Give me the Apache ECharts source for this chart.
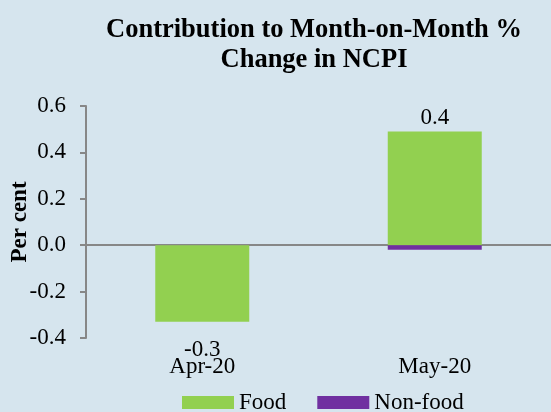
<!DOCTYPE html>
<html>
<head>
<meta charset="utf-8">
<script src="https://cdn.jsdelivr.net/npm/echarts@6/dist/echarts.min.js"></script>
<style>
html,body{margin:0;padding:0;background:#D6E5EE;}
#main{width:551px;height:412px;}
</style>
</head>
<body>
<div id="main"></div>
<script>
var categories = ['Apr-20', 'May-20'];
var foodValues = [-0.33, 0.49];
var nonFoodValues = [0.0, -0.02];
var totalLabels = ['-0.3', '0.4'];
var yTicks = [-0.4, -0.2, 0.0, 0.2, 0.4, 0.6];

var FONT = '"Liberation Serif", "Times New Roman", serif';
var chart = echarts.init(document.getElementById('main'));
var labelPos = ['bottom', 'top'];
var labelDist = [17, 2];

chart.setOption({
  backgroundColor: '#D6E5EE',
  animation: false,
  title: {
    text: 'Contribution to Month-on-Month %\nChange in NCPI',
    left: 309,
    textAlign: 'center',
    top: 10,
    textStyle: {fontFamily: FONT, fontWeight: 'bold', fontSize: 26.5, lineHeight: 30, color: '#000'}
  },
  legend: {
    left: 182,
    top: 391,
    padding: 0,
    itemWidth: 52,
    itemHeight: 13,
    itemGap: 31,
    icon: 'rect',
    textStyle: {fontFamily: FONT, fontSize: 23, color: '#000', padding: [0, 0, 0, 0]},
    data: ['Food', 'Non-food']
  },
  grid: {left: 86, right: 0, top: 106, bottom: 74, containLabel: false, outerBoundsMode: 'none'},
  xAxis: [{
    type: 'category',
    data: categories,
    axisLine: {onZero: true, lineStyle: {color: '#878787', width: 2}},
    axisTick: {show: false},
    axisLabel: {show: false}
  }, {
    type: 'category',
    data: categories,
    position: 'bottom',
    axisLine: {show: false, onZero: false},
    axisTick: {show: false},
    axisLabel: {fontFamily: FONT, fontSize: 23, color: '#000', margin: 17}
  }],
  yAxis: {
    type: 'value',
    min: -0.4,
    max: 0.6,
    interval: 0.2,
    name: 'Per cent',
    nameLocation: 'middle',
    nameGap: 54,
    nameMoveOverlap: false,
    nameTextStyle: {fontFamily: FONT, fontWeight: 'bold', fontSize: 23, color: '#000'},
    axisLine: {show: true, lineStyle: {color: '#878787', width: 2}},
    axisTick: {show: true, length: 6, lineStyle: {color: '#878787', width: 2}},
    splitLine: {show: false},
    axisLabel: {
      fontFamily: FONT, fontSize: 23, color: '#000', margin: 20,
      formatter: function (v) { return v.toFixed(1); }
    }
  },
  series: [{
    name: 'Food',
    type: 'bar',
    stack: 'total',
    barWidth: 94,
    itemStyle: {color: '#92D050'},
    data: foodValues.map(function (v, i) {
      return {value: v, label: {show: true, position: labelPos[i], distance: labelDist[i]}};
    }),
    label: {
      fontFamily: FONT, fontSize: 23, color: '#000',
      formatter: function (p) { return totalLabels[p.dataIndex]; }
    }
  }, {
    name: 'Non-food',
    type: 'bar',
    stack: 'total',
    barWidth: 94,
    itemStyle: {color: '#7030A0'},
    data: nonFoodValues
  }]
});
</script>
</body>
</html>
